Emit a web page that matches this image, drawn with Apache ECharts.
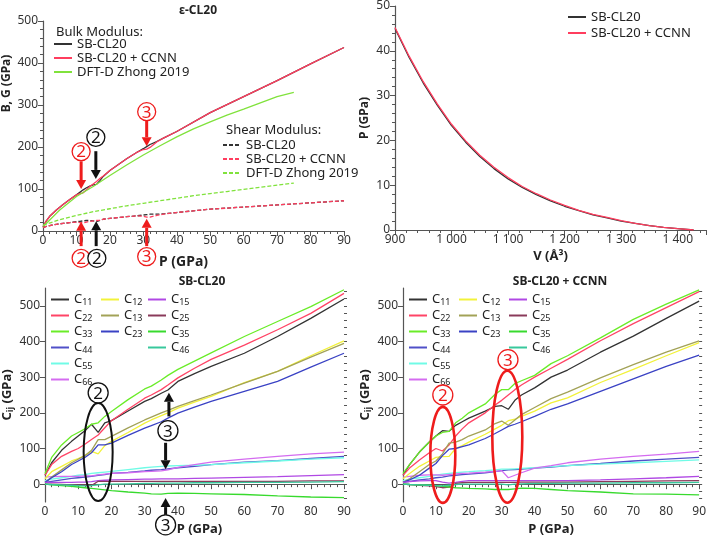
<!DOCTYPE html>
<html>
<head>
<meta charset="utf-8">
<title>CL20 moduli</title>
<script src="https://cdn.jsdelivr.net/npm/echarts@6/dist/echarts.min.js"></script>
<style>
  html, body { margin: 0; padding: 0; background: #fff; }
  #main { width: 709px; height: 538px; }
</style>
</head>
<body>
<div id="main"></div>
<script>
// ---- 左上 ε-CL20 体积/剪切模量 ----
const P_tl = [0,1,2,4,6,8,10,11,12,13,14,15,16,17,18,20,25,28,30,31,32,34,36,40,50,60,70,80,90];
const bulkSB = [10,24,35,50,63,75,86,92,98,103,107,110,111,120,130,144,172,187,196,201,206,213,221,237,282,320,358,398,437];
const bulkCCNN = [10,24,35,50,63,75,86,89,91,98,106,112,118,125,131,144,172,187,194,195,199,212,221,237,282,320,358,398,437];
const shearSB = [8,11,13,16,18,20,22,23,24,25,25,24,22,25,28,30,34,36,38,39,40,40,41,44,52,57,62,67,72];
const shearCCNN = [8,11,13,16,18,20,21,20,19,21,23,24,25,26,28,30,34,36,35,33,33,37,40,44,52,57,62,67,72];
const P_dft = [0,5,10,15,20,25,30,35,40,45,50,55,60,65,70,75];
const bulkDFT = [10,50,82,106,132,157,181,203,224,243,260,276,290,305,320,330];
const shearDFT = [14,27,37,46,53,60,66,72,78,84,89,94,99,104,109,114];

// ---- 右上 P-V ----
const V_pv = [900,925,950,975,1000,1025,1050,1075,1100,1125,1150,1175,1200,1225,1250,1275,1300,1325,1350,1375,1400,1428];
const pvSB = [45,38.5,32.8,27.8,23.3,19.6,16.4,13.7,11.4,9.5,7.9,6.5,5.3,4.3,3.4,2.7,2.0,1.5,1.0,0.6,0.3,0];
const pvCCNN = [45.2,38.8,33.1,28.1,23.6,19.9,16.7,14.0,11.7,9.7,8.1,6.7,5.5,4.4,3.5,2.8,2.1,1.5,1.0,0.6,0.3,0];

// ---- 左下 SB-CL20 Cij ----
const P_bl = [0,2,5,8,10,12,14,16,18,20,25,30,32,35,37,40,45,50,60,70,80,90];
const bl_C11 = [25,60,95,120,135,150,168,145,172,178,205,232,240,255,264,288,310,330,367,414,465,519];
const bl_C22 = [25,55,78,92,100,112,125,138,158,178,210,241,250,265,278,298,325,350,390,433,479,535];
const bl_C33 = [30,75,110,135,145,155,168,172,190,204,237,267,275,292,305,322,345,368,414,456,498,545];
const bl_C44 = [5,8,12,16,18,20,22,25,27,30,33,37,39,41,43,46,50,55,62,66,72,78];
const bl_C55 = [10,14,18,22,25,27,30,32,34,36,41,46,48,50,51,52,53,55,60,65,70,74];
const bl_C66 = [20,21,22,22,22,23,23,26,28,30,32,35,36,37,40,47,55,62,70,78,85,90];
const bl_C12 = [15,35,50,65,72,80,92,85,108,120,145,171,180,192,200,213,230,246,285,316,360,402];
const bl_C13 = [5,20,40,60,70,80,95,125,125,134,158,180,188,200,207,218,234,250,283,316,356,395];
const bl_C23 = [5,18,35,55,65,75,88,110,110,115,137,157,164,175,185,199,216,232,260,288,328,367];
const bl_C15 = [5,5,5,5,6,6,7,10,11,12,13,14,14,15,15,15,16,17,19,21,24,27];
const bl_C25 = [0,0,-1,-2,-3,-3,-4,8,8,8,8,8,8,8,8,8,8,8,8,8,9,9];
const bl_C35 = [0,-2,-4,-6,-8,-10,-12,-14,-16,-18,-22,-25,-27,-28,-26,-25,-26,-27,-29,-33,-36,-38];
const bl_C46 = [0,-1,-2,-3,-4,-5,-4,-2,0,0,1,2,2,3,3,3,4,4,5,5,6,7];

// ---- 右下 SB-CL20 + CCNN Cij ----
const P_br = [0,2,5,8,10,12,14,16,18,20,25,28,30,32,34,36,40,45,50,60,70,80,90];
const br_C11 = [25,55,90,118,135,150,148,165,175,185,205,218,220,210,235,250,270,300,320,370,415,465,513];
const br_C22 = [25,45,68,88,100,93,110,135,155,172,200,222,235,250,265,278,300,325,350,402,450,495,540];
const br_C33 = [30,55,90,118,135,145,148,172,185,200,225,252,265,265,282,290,305,338,360,410,462,505,545];
const br_C44 = [5,8,12,15,18,20,23,25,27,28,32,35,38,40,41,42,45,48,52,58,65,70,75];
const br_C55 = [10,14,18,22,25,28,30,32,34,35,38,40,42,42,43,44,46,49,52,56,60,64,68];
const br_C66 = [20,22,25,26,26,25,27,29,30,31,34,36,38,18,25,32,45,52,60,70,78,84,92];
const br_C12 = [15,30,50,65,75,77,78,100,108,118,140,155,165,178,182,190,205,228,242,285,322,360,397];
const br_C13 = [5,15,35,55,65,85,115,118,125,135,152,170,177,165,180,195,215,240,258,298,335,370,402];
const br_C23 = [5,12,25,45,58,80,98,100,105,110,128,142,152,162,168,175,190,210,225,260,295,330,362];
const br_C15 = [5,7,9,10,10,6,3,5,8,10,10,10,10,10,10,10,10,10,10,12,15,18,22];
const br_C25 = [0,-1,-3,-5,-7,-10,-8,2,4,5,5,5,5,5,5,6,6,6,6,7,8,9,10];
const br_C35 = [0,-1,-2,-3,-4,-6,-8,-10,-11,-12,-13,-15,-15,-15,-13,-11,-12,-15,-18,-22,-27,-28,-30];
const br_C46 = [0,-1,-2,-3,-4,-5,-3,-1,0,0,0,0,0,-2,0,1,2,2,3,3,4,4,5];

const FONT = 'Noto Sans';
const BLACK = '#333333';
const RED = '#ff3d5e';
const LIME = '#80e23c';
const ANN_RED = '#ee1c1c';
const ANN = '#111111';
// Cij 颜色
const cColors = {
  '11': '#333333', '22': '#ff4466', '33': '#6aec28', '44': '#5050c8', '55': '#70fbe6', '66': '#d46cf0',
  '12': '#f2f23a', '13': '#a2a257', '23': '#3a42c4', '15': '#b048e4', '25': '#8a3a5a', '35': '#38da2e', '46': '#38c89c'
};
const cOrder = ['11','22','33','44','55','66','12','13','23','15','25','35','46'];
const blData = {'11': bl_C11, '22': bl_C22, '33': bl_C33, '44': bl_C44, '55': bl_C55, '66': bl_C66,
  '12': bl_C12, '13': bl_C13, '23': bl_C23, '15': bl_C15, '25': bl_C25, '35': bl_C35, '46': bl_C46};
const brData = {'11': br_C11, '22': br_C22, '33': br_C33, '44': br_C44, '55': br_C55, '66': br_C66,
  '12': br_C12, '13': br_C13, '23': br_C23, '15': br_C15, '25': br_C25, '35': br_C35, '46': br_C46};

// 图例显示名
const labelMap = {
  bSB: 'SB-CL20', bCC: 'SB-CL20 + CCNN', bDFT: 'DFT-D Zhong 2019',
  sSB: 'SB-CL20', sCC: 'SB-CL20 + CCNN', sDFT: 'DFT-D Zhong 2019',
  pSB: 'SB-CL20', pCC: 'SB-CL20 + CCNN'
};

function line(name, xs, ys, color, xi, yi, dashed) {
  return {
    name: name, type: 'line', xAxisIndex: xi, yAxisIndex: yi,
    data: xs.map((x, i) => [x, ys[i]]),
    symbol: 'none', showSymbol: false, animation: false,
    lineStyle: { color: color, width: 1.3, type: dashed ? [4, 2] : 'solid' },
    itemStyle: { color: color }
  };
}

let series = [
  line('bSB', P_tl, bulkSB, BLACK, 0, 0),
  line('bCC', P_tl, bulkCCNN, RED, 0, 0),
  line('bDFT', P_dft, bulkDFT, LIME, 0, 0),
  line('sSB', P_tl, shearSB, BLACK, 0, 0, true),
  line('sCC', P_tl, shearCCNN, RED, 0, 0, true),
  line('sDFT', P_dft, shearDFT, LIME, 0, 0, true),
  line('pSB', V_pv, pvSB, BLACK, 1, 1),
  line('pCC', V_pv, pvCCNN, RED, 1, 1)
];
cOrder.forEach(k => series.push(line('L' + k, P_bl, blData[k], cColors[k], 2, 2)));
cOrder.forEach(k => series.push(line('R' + k, P_br, brData[k], cColors[k], 3, 3)));

const tickLab = { color: '#333', fontFamily: FONT, fontSize: 12 };
const axLine = { show: true, lineStyle: { color: '#555', width: 1.2 } };
function nameStyle(size, pad) {
  return { fontFamily: FONT, fontSize: size, fontWeight: 'bold', color: '#222', padding: pad || 0,
    rich: { b: { fontFamily: FONT, fontSize: size, fontWeight: 'bold', color: '#222' },
            s: { fontFamily: FONT, fontSize: size - 4, fontWeight: 'bold', color: '#222', padding: [6, 0, 0, 0] } } };
}

function xAx(grid, min, max, interval, name, size, gap, pad, fmt) {
  return {
    type: 'value', gridIndex: grid, min: min, max: max, interval: interval,
    name: name, nameLocation: 'middle', nameGap: gap, nameMoveOverlap: false, nameTextStyle: nameStyle(size, pad),
    axisLine: axLine, splitLine: { show: false },
    axisTick: { show: true, length: 5, lineStyle: { color: '#555' } },
    minorTick: { show: true, splitNumber: 5, length: 3, lineStyle: { color: '#555' } },
    axisLabel: Object.assign({ margin: 4, formatter: fmt }, tickLab)
  };
}
function yAx(grid, min, max, interval, name, gap, pad) {
  return {
    type: 'value', gridIndex: grid, min: min, max: max, interval: interval,
    name: name, nameLocation: 'middle', nameGap: gap, nameMoveOverlap: false, nameTextStyle: nameStyle(12, pad),
    axisLine: axLine, splitLine: { show: false },
    axisTick: { show: true, length: 5, lineStyle: { color: '#555' } },
    minorTick: { show: true, splitNumber: 5, length: 3, lineStyle: { color: '#555' } },
    axisLabel: Object.assign({ margin: 5 }, tickLab)
  };
}
// Cij 轴: 范围 -50~550, 标签只在整百
const hundreds = [0, 100, 200, 300, 400, 500];
const twenties = [];
for (let v = -40; v <= 540; v += 20) twenties.push(v);
function cijAx(grid) {
  return {
    type: 'value', gridIndex: grid, min: -50, max: 550,
    name: '{b|C}{s|ij}{b| (GPa)}', nameLocation: 'middle', nameGap: 30, nameMoveOverlap: false, nameTextStyle: nameStyle(13),
    axisLine: axLine, splitLine: { show: false },
    axisTick: { show: true, length: 5, customValues: hundreds, lineStyle: { color: '#555' } },
    axisLabel: Object.assign({ margin: 5, customValues: hundreds }, tickLab)
  };
}
function cijMinor(grid) {
  return {
    type: 'value', gridIndex: grid, min: -50, max: 550,
    axisLine: { show: false }, splitLine: { show: false }, axisLabel: { show: false },
    axisTick: { show: true, length: 3, customValues: twenties, lineStyle: { color: '#555' } }
  };
}

// 图例
function legend(names, left, top, gap, fmt) {
  return {
    data: names, left: left, top: top, orient: 'vertical', itemGap: gap, padding: 0,
    itemWidth: 18, itemHeight: 10, selectedMode: false,
    itemStyle: { opacity: 0 },
    formatter: fmt,
    textStyle: { fontFamily: FONT, fontSize: 13, color: '#222', lineHeight: 14,
      rich: { c: { fontFamily: FONT, fontSize: 13, color: '#222', lineHeight: 13 },
              s: { fontFamily: FONT, fontSize: 9, color: '#222', lineHeight: 13, padding: [6, 0, 0, 0] } } }
  };
}
const nameFmt = n => labelMap[n];
const cFmt = n => '{c|C}{s|' + n.slice(1) + '}';

const titleStyle = { fontFamily: FONT, fontSize: 12, fontWeight: 'bold', color: '#222' };
const option = {
  backgroundColor: '#fff',
  animation: false,
  title: [
    { text: 'ε-CL20', left: 193, top: 0, textAlign: 'center', textStyle: titleStyle },
    { text: 'SB-CL20', left: 197, top: 271, textAlign: 'center', textStyle: titleStyle },
    { text: 'SB-CL20 + CCNN', left: 555, top: 271, textAlign: 'center', textStyle: titleStyle },
    { text: 'Bulk Modulus:', left: 51, top: 21, textStyle: { fontFamily: FONT, fontSize: 13, fontWeight: 'normal', color: '#222' } },
    { text: 'Shear Modulus:', left: 221, top: 119, textStyle: { fontFamily: FONT, fontSize: 13, fontWeight: 'normal', color: '#222' } }
  ],
  grid: [
    { left: 43, top: 21, width: 301, height: 210 },
    { left: 395, top: 5, width: 311, height: 225 },
    { left: 44, top: 288, width: 300, height: 214 },
    { left: 403, top: 288, width: 299, height: 214 }
  ],
  xAxis: [
    xAx(0, 0, 90, 10, 'P (GPa)', 14, 24, [0, 20, 0, 0]),
    xAx(1, 900, 1450, 100, 'V (Å³)', 13, 20, 0, v => v >= 1000 ? String(v).replace(/(\d)(\d{3})$/, '$1 $2') : String(v)),
    xAx(2, 0, 90, 10, 'P (GPa)', 13, 21, [0, 0, 0, 10]),
    xAx(3, 0, 90, 10, 'P (GPa)', 13, 21, 0)
  ],
  yAxis: [
    yAx(0, 0, 500, 100, 'B, G (GPa)', 30, [0, 0, 0, 85]),
    yAx(1, 0, 50, 10, 'P (GPa)', 24),
    cijAx(2),
    cijAx(3),
    cijMinor(2),
    cijMinor(3)
  ],
  legend: [
    legend(['bSB', 'bCC', 'bDFT'], 53, 37, 0, nameFmt),
    legend(['sSB', 'sCC', 'sDFT'], 222, 138, 0, nameFmt),
    legend(['pSB', 'pCC'], 567, 10, 2, nameFmt),
    legend(['L11', 'L22', 'L33', 'L44', 'L55', 'L66'], 50, 292, 1, cFmt),
    legend(['L12', 'L13', 'L23'], 100, 292, 1, cFmt),
    legend(['L15', 'L25', 'L35', 'L46'], 147, 292, 1, cFmt),
    legend(['R11', 'R22', 'R33', 'R44', 'R55', 'R66'], 408, 292, 1, cFmt),
    legend(['R12', 'R13', 'R23'], 458, 292, 1, cFmt),
    legend(['R15', 'R25', 'R35', 'R46'], 508, 292, 1, cFmt)
  ],
  series: series
};

const chart = echarts.init(document.getElementById('main'), null, { renderer: 'canvas' });
chart.setOption(option);

// ---- 标注: 圆圈编号、箭头、椭圆 (按数据坐标定位) ----
function px(xi, yi, x, y) {
  return chart.convertToPixel({ xAxisIndex: xi, yAxisIndex: yi }, [x, y]);
}
function badge(p, txt, color, r) {
  return [
    { type: 'circle', shape: { cx: p[0], cy: p[1], r: r }, style: { fill: '#fff', stroke: color, lineWidth: 1.3 }, z: 100 },
    { type: 'text', x: p[0], y: p[1] + 1, style: { text: txt, fill: color, font: '17px "' + FONT + '"', align: 'center', verticalAlign: 'middle' }, z: 101 }
  ];
}
function arrow(a, b, color) {
  // a -> b, b 为箭头尖
  const dir = b[1] > a[1] ? 1 : -1;
  const hl = 9, hw = 5;
  return [
    { type: 'line', shape: { x1: a[0], y1: a[1], x2: b[0], y2: b[1] - dir * hl }, style: { stroke: color, lineWidth: 3 }, z: 100 },
    { type: 'polygon', shape: { points: [[b[0] - hw, b[1] - dir * hl], [b[0] + hw, b[1] - dir * hl], [b[0], b[1]]] }, style: { fill: color }, z: 100 }
  ];
}
function ring(c, rx, ry, color) {
  return { type: 'ellipse', shape: { cx: c[0], cy: c[1], rx: rx, ry: ry }, style: { fill: 'none', stroke: color, lineWidth: color === ANN_RED ? 2.6 : 2 }, z: 99 };
}
let g = [];
// 左上
g = g.concat(badge(px(0, 0, 11.4, 189), '2', ANN_RED, 9));
g = g.concat(arrow(px(0, 0, 11.4, 166), px(0, 0, 11.4, 100), ANN_RED));
g = g.concat(badge(px(0, 0, 15.8, 223), '2', ANN, 9));
g = g.concat(arrow(px(0, 0, 15.8, 190), px(0, 0, 15.8, 124), ANN));
g = g.concat(badge(px(0, 0, 31, 284), '3', ANN_RED, 9));
g = g.concat(arrow(px(0, 0, 31, 262), px(0, 0, 31, 202), ANN_RED));
g = g.concat(arrow(px(0, 0, 11.4, -36), px(0, 0, 11.4, 22), ANN_RED));
g = g.concat(arrow(px(0, 0, 15.9, -36), px(0, 0, 15.9, 23), ANN));
g = g.concat(arrow(px(0, 0, 31, -36), px(0, 0, 31, 29), ANN_RED));
g = g.concat(badge(px(0, 0, 11.4, -65), '2', ANN_RED, 9));
g = g.concat(badge(px(0, 0, 16.1, -65), '2', ANN, 9));
g = g.concat(badge(px(0, 0, 31, -61), '3', ANN_RED, 9));
// 左下
g.push(ring(px(2, 2, 16, 90), 14.5, 49, ANN));
g = g.concat(badge(px(2, 2, 16, 256), '2', ANN, 10));
g = g.concat(arrow(px(2, 2, 37.3, 190), px(2, 2, 37.3, 256), ANN));
g = g.concat(arrow(px(2, 2, 36.3, 116), px(2, 2, 36.3, 42), ANN));
g = g.concat(badge(px(2, 2, 37, 150), '3', ANN, 10));
g = g.concat(arrow(px(2, 2, 36.3, -95), px(2, 2, 36.3, -39), ANN));
g = g.concat(badge(px(2, 2, 36.3, -114), '3', ANN, 10));
// 右下
g.push(ring(px(3, 3, 12.1, 82), 12.5, 48, ANN_RED));
g = g.concat(badge(px(3, 3, 12.1, 250), '2', ANN_RED, 10));
g.push(ring(px(3, 3, 31.7, 133), 15, 66, ANN_RED));
g = g.concat(badge(px(3, 3, 31.9, 349), '3', ANN_RED, 10));

chart.setOption({ graphic: g });
</script>
</body>
</html>
